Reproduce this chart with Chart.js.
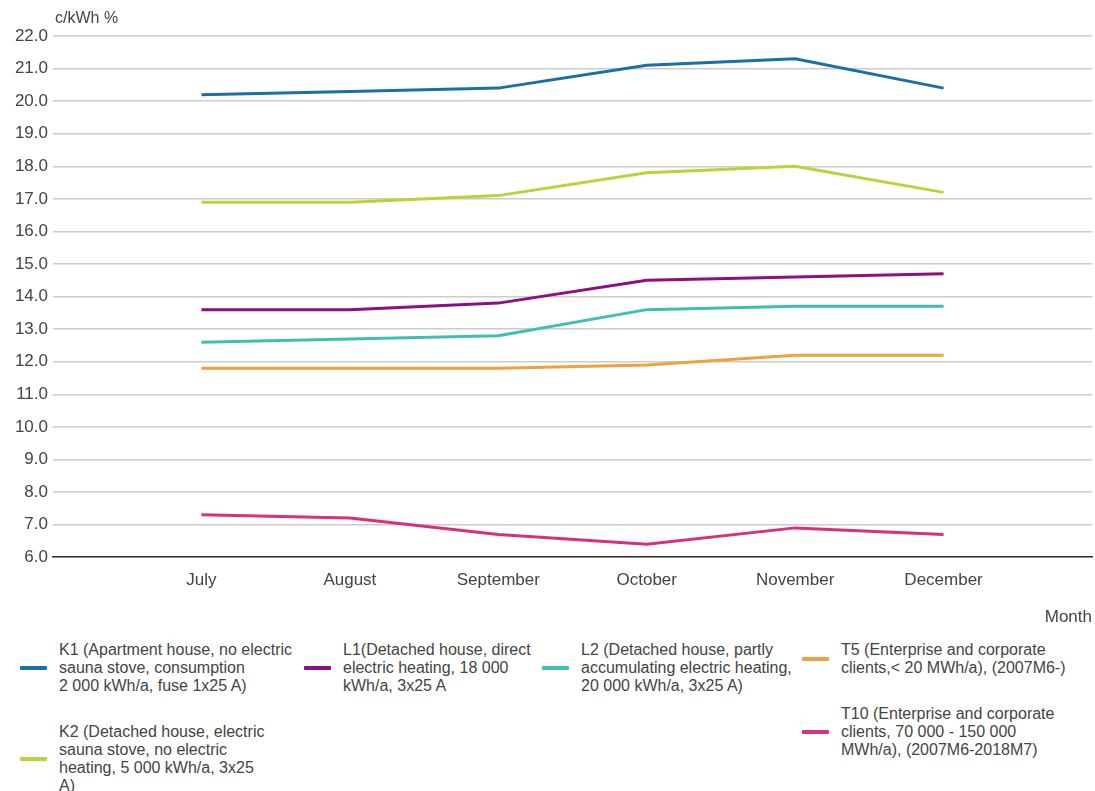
<!DOCTYPE html>
<html>
<head>
<meta charset="utf-8">
<script src="https://cdn.jsdelivr.net/npm/chart.js@4.4.1/dist/chart.umd.min.js"></script>
<style>
  body { margin: 0; background: #fff; font-family: "Liberation Sans", Arial, sans-serif; }
  #wrap { position: relative; width: 1095px; height: 791px; overflow: hidden; }
  #chart { position: absolute; left: 0; top: 0; }
  #unit { position: absolute; left: 55px; top: 9px; font-size: 16px; color: #444; }
  .col { position: absolute; top: 641px; }
  .item { display: flex; align-items: center; margin-bottom: 28px; }
  .swatch { width: 27px; height: 4px; border-radius: 1px; flex: none; }
  .txt { white-space: pre; font-size: 16px; line-height: 18px; color: #444; margin-left: 12px; }
</style>
</head>
<body>
<div id="wrap">
  <canvas id="chart" width="1095" height="640"></canvas>
  <div id="unit">c/kWh %</div>
  <div id="legend"></div>
</div>
<script>
const months = ['July', 'August', 'September', 'October', 'November', 'December'];
const yTicks = [6, 7, 8, 9, 10, 11, 12, 13, 14, 15, 16, 17, 18, 19, 20, 21, 22];

const k1 = [20.2, 20.3, 20.4, 21.1, 21.3, 20.4];
const l1 = [13.6, 13.6, 13.8, 14.5, 14.6, 14.7];
const l2 = [12.6, 12.7, 12.8, 13.6, 13.7, 13.7];
const t5 = [11.8, 11.8, 11.8, 11.9, 12.2, 12.2];
const k2 = [16.9, 16.9, 17.1, 17.8, 18.0, 17.2];
const t10 = [7.3, 7.2, 6.7, 6.4, 6.9, 6.7];

const seriesNames = [
    'K1 (Apartment house, no electric\nsauna stove, consumption\n2 000 kWh/a, fuse 1x25 A)',
    'L1(Detached house, direct\nelectric heating, 18 000\nkWh/a, 3x25 A',
    'L2 (Detached house, partly\naccumulating electric heating,\n20 000 kWh/a, 3x25 A)',
    'T5 (Enterprise and corporate\nclients,< 20 MWh/a), (2007M6-)',
    'K2 (Detached house, electric\nsauna stove, no electric\nheating, 5 000 kWh/a, 3x25\nA)',
    'T10 (Enterprise and corporate\nclients, 70 000 - 150 000\nMWh/a), (2007M6-2018M7)'
];
const seriesData = [k1, l1, l2, t5, k2, t10];
const seriesColors = ['#1c6ea6', '#8f0f80', '#3fbfb2', '#f0a03c', '#b8d43a', '#d9307c'];
const legendCols = [20, 304, 542, 802];
const legendColOf = [0, 1, 2, 3, 0, 3];

// pad the category axis with an empty slot at each end
const labels = ['', ...months, ''];

const datasets = seriesData.map((vals, i) => ({
    label: seriesNames[i],
    data: [null, ...vals, null],
    borderColor: seriesColors[i],
    backgroundColor: seriesColors[i],
    borderWidth: 3,
    pointRadius: 0,
    tension: 0
}));

const ctx = document.getElementById('chart').getContext('2d');
new Chart(ctx, {
    type: 'line',
    data: { labels: labels, datasets: datasets },
    options: {
        responsive: false,
        animation: false,
        layout: { padding: { top: 36, right: 3, bottom: 12, left: 0 } },
        plugins: { legend: { display: false }, tooltip: { enabled: false } },
        scales: {
            x: {
                offset: false,
                afterFit: scale => { scale.paddingLeft = 0; scale.paddingRight = 0; },
                grid: { display: false, drawTicks: false },
                border: { display: true, color: '#333', width: 1.5 },
                ticks: {
                    padding: 13,
                    autoSkip: false,
                    maxRotation: 0,
                    color: '#444',
                    font: { family: 'Liberation Sans', size: 17 }
                },
                title: {
                    display: true,
                    text: 'Month',
                    align: 'end',
                    color: '#444',
                    padding: { top: 4, bottom: 0 },
                    font: { family: 'Liberation Sans', size: 17 }
                }
            },
            y: {
                min: 6,
                max: 22,
                afterFit: scale => { scale.width = 53; },
                afterBuildTicks: scale => { scale.ticks = yTicks.map(v => ({ value: v })); },
                grid: { color: '#cccccc', lineWidth: 1.5, drawTicks: false },
                border: { display: false },
                ticks: {
                    padding: 5,
                    color: '#444',
                    font: { family: 'Liberation Sans', size: 17 },
                    callback: v => Number(v).toFixed(1)
                }
            }
        }
    }
});

// legend: four columns, each column stacks its own items
const legend = document.getElementById('legend');
const cols = legendCols.map(x => {
    const col = document.createElement('div');
    col.className = 'col';
    col.style.left = x + 'px';
    legend.appendChild(col);
    return col;
});
seriesNames.forEach((name, i) => {
    const item = document.createElement('div');
    item.className = 'item';
    item.innerHTML = `<div class="swatch" style="background:${seriesColors[i]}"></div>
                      <div class="txt">${name}</div>`;
    cols[legendColOf[i]].appendChild(item);
});
</script>
</body>
</html>
